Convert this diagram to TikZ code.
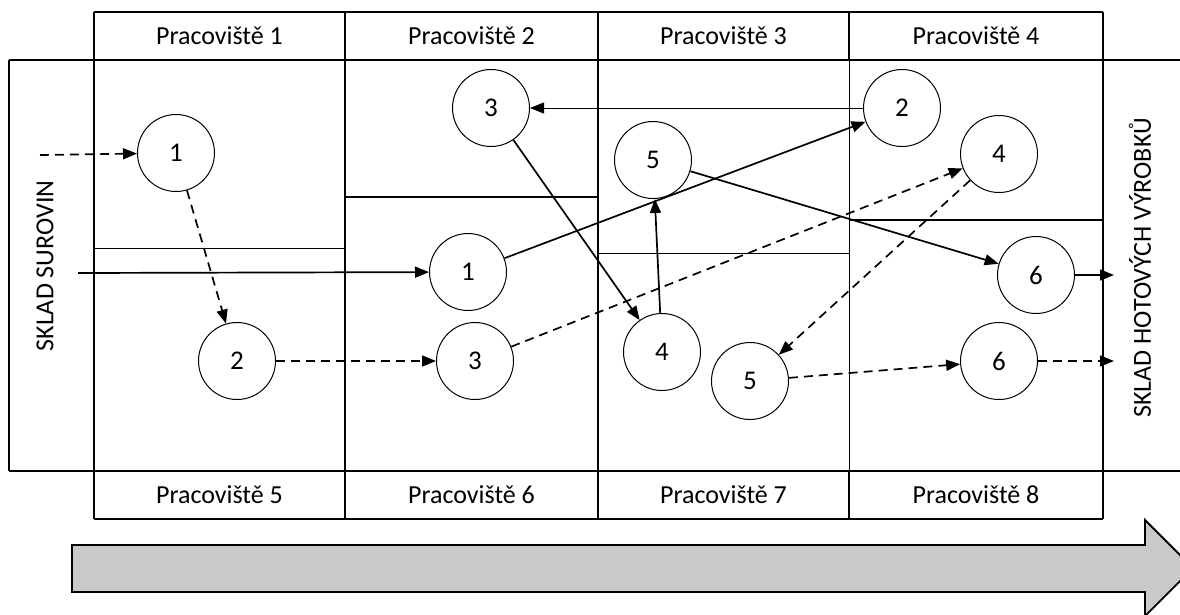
\documentclass[tikz,border=0pt]{standalone}
\usepackage{fontspec}
\setmainfont{Carlito}
\usetikzlibrary{arrows.meta}
\begin{document}
\begin{tikzpicture}[x=1pt,y=-1pt,
  thickln/.style={line width=2pt},
  thinln/.style={line width=1pt},
  circ/.style={circle,draw,line width=1pt,minimum size=77pt,inner sep=0pt,font=\fontsize{27}{30}\selectfont},
  lbl/.style={font=\fontsize{26}{30}\selectfont},
  flow/.style={line width=1.7pt,-{Triangle[length=14pt,width=11pt]}},
  dflow/.style={flow,dash pattern=on 9pt off 6pt},
  tflow/.style={line width=0.8pt,-{Triangle[length=14pt,width=11pt]}}]
\useasboundingbox (0,0) rectangle (1180,614);
\clip (0,0) rectangle (1180,614);
% grid
\draw[thickln] (94,12) -- (1103,12);
\draw[thickln] (9,60) -- (1180,60);
\draw[thickln] (9,471) -- (1180,471);
\draw[thickln] (94,519) -- (1103,519);
\draw[thickln] (9,60) -- (9,471);
\foreach \x in {94,345,598,1103} \draw[thickln] (\x,12) -- (\x,519);
\draw[thickln] (849,12) -- (849,60);
\draw[thickln] (849,471) -- (849,519);
\draw[thinln] (849,60) -- (849,471);
% internal lines
\draw[thinln] (94,248) -- (345,248);
\draw[thickln] (345,197) -- (598,197);
\draw[thinln] (598,253) -- (849,253);
\draw[thickln] (849,220) -- (1103,220);
% headers
\node[lbl] (h1) at (219.5,36) {Pracoviště 1};
\node[lbl] (h2) at (471.5,36) {Pracoviště 2};
\node[lbl] (h3) at (723.5,36) {Pracoviště 3};
\node[lbl] (h4) at (976,36) {Pracoviště 4};
\node[lbl] (h5) at (219.5,495) {Pracoviště 5};
\node[lbl] (h6) at (471.5,495) {Pracoviště 6};
\node[lbl] (h7) at (723.5,495) {Pracoviště 7};
\node[lbl] (h8) at (976,495) {Pracoviště 8};
\node[lbl,rotate=90] (sur) at (45,266) {SKLAD SUROVIN};
\node[lbl,rotate=90] (hot) at (1140,268) {SKLAD HOTOVÝCH VÝROBKŮ};
% circles
\node[circ] (a1) at (176,153) {1};
\node[circ] (a2) at (237,361) {2};
\node[circ] (b3) at (491,108) {3};
\node[circ] (b1) at (468,272) {1};
\node[circ] (c3) at (475,361) {3};
\node[circ] (d5) at (653,160) {5};
\node[circ] (e4) at (662,352) {4};
\node[circ] (e5) at (750,381) {5};
\node[circ] (f2) at (902,108) {2};
\node[circ] (f4) at (999,154) {4};
\node[circ] (g6) at (1036,275) {6};
\node[circ] (h6c) at (999,361) {6};
\coordinate (inA) at (40,155);
\coordinate (inB) at (78,273);
\coordinate (outA) at (1114,275);
\coordinate (outB) at (1114,361);
% dashed flow
\draw[dflow] (inA) -- (a1);
\draw[dflow] (a1) -- (a2);
\draw[dflow] (a2) -- (c3);
\draw[dflow] (c3) -- (f4);
\draw[dflow] (f4) -- (e5);
\draw[dflow] (e5) -- (h6c);
\draw[dflow] (h6c) -- (outB);
% solid flow
\draw[flow] (inB) -- (b1);
\draw[flow] (b1) -- (f2);
\draw[tflow] (f2) -- (b3);
\draw[flow] (b3) -- (e4);
\draw[flow] (e4) -- (d5);
\draw[flow] (d5) -- (g6);
\draw[flow] (g6) -- (outA);
% big arrow
\draw[line width=1.8pt,fill=black!21] (72,545) -- (1145,545) -- (1145,520) -- (1193,568) -- (1145,616) -- (1145,592) -- (72,592) -- cycle;
\end{tikzpicture}
\end{document}
